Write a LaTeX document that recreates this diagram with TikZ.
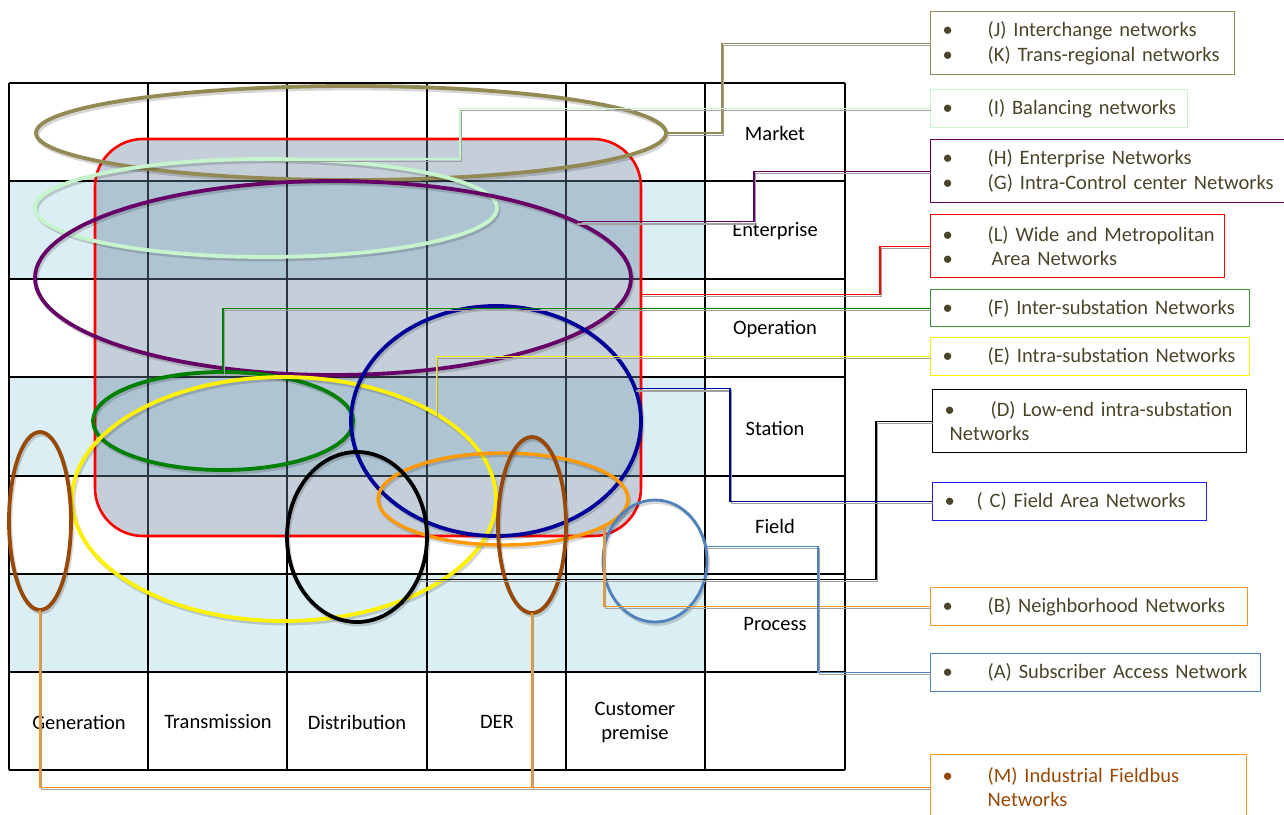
\documentclass[tikz,border=0pt]{standalone}
\usepackage{fontspec}
\setmainfont{Carlito}
\usetikzlibrary{shapes.geometric}

\definecolor{bandblue}{RGB}{218,238,243}
\definecolor{wanfill}{RGB}{110,135,162}
\definecolor{khaki}{RGB}{147,137,83}
\definecolor{mint}{RGB}{198,244,204}
\definecolor{plum}{RGB}{102,0,102}
\definecolor{leafgreen}{RGB}{0,128,0}
\definecolor{boxgreen}{RGB}{58,154,58}
\definecolor{navy}{RGB}{0,0,153}
\definecolor{boxblue}{RGB}{30,30,230}
\definecolor{amber}{RGB}{255,153,0}
\definecolor{boxamber}{RGB}{247,150,40}
\definecolor{rust}{RGB}{152,72,7}
\definecolor{steel}{RGB}{79,129,189}
\definecolor{legtext}{RGB}{74,69,42}
\definecolor{shadowgray}{RGB}{160,160,160}

\tikzset{
  gridline/.style={line width=1.4pt, draw=black},
  ring/.style={ellipse, inner sep=0pt, outer sep=0pt},
  legend/.style={draw, line width=1.3pt, rectangle, anchor=north west,
    align=left, inner xsep=12pt, inner ysep=0pt, text=legtext,
    font=\fontsize{20.5}{24.5}\selectfont},
  lbl/.style={font=\fontsize{20.5}{24}\selectfont, text=black, align=center, inner sep=0pt},
  link/.style={line width=1.2pt},
  linkshadow/.style={line width=1.2pt, draw=shadowgray},
}

% one legend line: bullet, fixed indent, unbreakable text
\newcommand\legline[2][45pt]{\makebox[#1][l]{•}\mbox{#2}}
% a continuation line without bullet
\newcommand\legmore[2][45pt]{\hspace*{#1}\mbox{#2}}

% ellipse node with a faint drop shadow: [line width]{name}{colour}{cx}{cy}{rx}{ry}
\newcommand\netring[7][3.8pt]{%
  \begin{scope}[transform canvas={shift={(1.5pt,-2.5pt)}}]
    \draw[line width=#1, draw=black, opacity=.16] (#4,#5) ellipse [x radius=#6pt, y radius=#7pt];
  \end{scope}
  \node[ring, draw=#3, line width=#1, minimum width=2*#6pt, minimum height=2*#7pt] (#2) at (#4,#5) {};}

% connector with its grey shadow: {colour}{path}
\newcommand\netlink[2]{%
  \begin{scope}[transform canvas={shift={(1.2pt,-2.2pt)}}]\draw[linkshadow] #2;\end{scope}
  \draw[link, draw=#1] #2;}

\begin{document}
\begin{tikzpicture}[x=1pt,y=-1pt]
\useasboundingbox (0,0) rectangle (1284,814);

% shaded rows of the domain grid
\fill[bandblue] (9,181) rectangle (705,279);
\fill[bandblue] (9,377) rectangle (705,476);
\fill[bandblue] (9,574) rectangle (705,672);

% grid lines
\foreach \gx in {9,148,287,427,566,705,845}
  \draw[gridline] (\gx,83) -- (\gx,770);
\foreach \gy in {83,181,279,377,476,574,672,770}
  \draw[gridline] (9,\gy) -- (845,\gy);

% zone and domain labels
\node[lbl] (zMarket) at (775,133) {Market};
\node[lbl] (zEnterprise) at (775,231) {Enterprise};
\node[lbl] (zOperation) at (775,329) {Operation};
\node[lbl] (zStation) at (775,428) {Station};
\node[lbl] (zField) at (775,526) {Field};
\node[lbl] (zProcess) at (775,624) {Process};
\node[lbl] (dGen) at (79,722) {Generation};
\node[lbl] (dTrans) at (218,722) {Transmission};
\node[lbl] (dDist) at (357,722) {Distribution};
\node[lbl] (dDER) at (497,722) {DER};
\node[lbl] (dCust) at (635,722) {Customer\\premise};

% wide and metropolitan area networks
\node[draw=red, line width=2.6pt, fill=wanfill, fill opacity=0.4, rounded corners=48pt,
      minimum width=546pt, minimum height=397pt, inner sep=0pt, outer sep=0pt] (wan) at (368,337.5) {};

% network ellipses
\netring{eJ}{khaki}{351}{133}{315}{47}
\netring{eI}{mint}{266}{208}{231}{49}
\netring{eHG}{plum}{333}{278}{298}{97}
\netring{eF}{leafgreen}{223}{421}{130}{49}
\netring{eE}{yellow}{284}{499}{212}{122}
\netring{eC}{navy}{496}{421}{145}{115}
\netring[3.4pt]{eB}{amber}{503}{499}{125}{46}
\netring{eD}{black}{357}{537}{70}{85}
\netring{eM1}{rust}{40}{521}{31}{89}
\netring{eM2}{rust}{532}{525}{34}{88}
\netring[2.8pt]{eA}{steel}{655}{561}{52}{61}

% legend boxes
\node[legend, draw=khaki, text width=280pt, minimum height=63pt] (boxJ) at (930,11)
  {\legline{(J) Interchange networks}\\\legline{(K) Trans-regional networks}};
\node[legend, draw=mint, text width=233pt, minimum height=38pt] (boxI) at (930,89)
  {\legline{(I) Balancing networks}};
\node[legend, draw=plum, text width=336pt, minimum height=63pt] (boxHG) at (930,139)
  {\legline{(H) Enterprise Networks}\\\legline{(G) Intra-Control center Networks}};
\node[legend, draw=red, text width=270pt, minimum height=63pt] (boxL) at (930,214)
  {\legline{(L) Wide and Metropolitan}\\\legline[49pt]{Area Networks}};
\node[legend, draw=boxgreen, text width=295pt, minimum height=37pt] (boxF) at (930,289)
  {\legline{(F) Inter-substation Networks}};
\node[legend, draw=yellow, text width=295pt, minimum height=38pt] (boxE) at (930,337)
  {\legline{(E) Intra-substation Networks}};
\node[legend, draw=black, text width=290pt, minimum height=63pt] (boxD) at (932,389)
  {\legline[46pt]{(D) Low-end intra-substation}\\\legmore[5pt]{Networks}};
\node[legend, draw=boxblue, text width=250pt, minimum height=38pt] (boxC) at (932,482)
  {\legline[32pt]{( C) Field Area Networks}};
\node[legend, draw=boxamber, text width=293pt, minimum height=38pt] (boxB) at (930,587)
  {\legline{(B) Neighborhood Networks}};
\node[legend, draw=steel, text width=306pt, minimum height=38pt] (boxA) at (930,653)
  {\legline{(A) Subscriber Access Network}};
\node[legend, draw=boxamber, text=rust, text width=292pt, minimum height=65pt] (boxM) at (930,754)
  {\legline{(M) Industrial Fieldbus}\\\legmore{Networks}};

% connectors from each legend box to its network
\netlink{khaki}{(boxJ.west) -| (722,90) |- (eJ.east)}
\netlink{mint}{(boxI.west) -| (460,130) |- (eI.north)}
\netlink{plum}{(boxHG.west) -| (754,200) |- (eHG.13)}
\netlink{red}{(boxL.west) -| (880,270) |- (wan.9.87)}
\netlink{leafgreen}{(boxF.west) -| (eF.north)}
\netlink{yellow}{(boxE.west) -| (eE.29.8)}
\netlink{black}{(boxD.west) -| (876,500) |- (eD.-35.6)}
\netlink{navy}{(boxC.west) -| (730,450) |- (eC.13.4)}
\netlink{boxamber}{(boxB.west) -| (eB.-15.4)}
\netlink{steel}{(boxA.west) -| (818,600) |- (eA.16.6)}
\netlink{boxamber}{(boxM.west) -| (eM1.south)}
\netlink{boxamber}{(eM2.south) |- (boxM.west)}
\end{tikzpicture}
\end{document}
